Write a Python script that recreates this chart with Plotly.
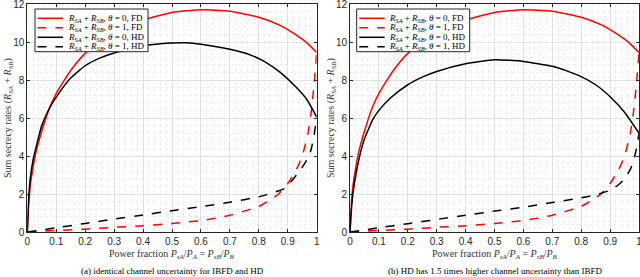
import plotly.graph_objects as go

# ---------------- data ----------------
x_fd0 = [0, 0.005, 0.01, 0.02, 0.03, 0.05, 0.076, 0.1, 0.15, 0.2, 0.3, 0.4, 0.5, 0.6, 0.7, 0.8, 0.87, 0.9, 0.95, 0.97, 1.0]
y_fd0 = [0, 1.5, 2.4, 3.4, 4.2, 5.3, 6.5, 7.3, 8.5, 9.4, 10.5, 11.15, 11.55, 11.7, 11.62, 11.3, 10.9, 10.65, 10.15, 9.9, 9.45]

x_fd1 = [0, 0.1, 0.2, 0.3, 0.4, 0.5, 0.6, 0.7, 0.8, 0.85, 0.87, 0.9, 0.93, 0.95, 0.97, 0.98, 0.99, 1.0]
y_fd1 = [0, 0.08, 0.15, 0.25, 0.33, 0.45, 0.6, 0.88, 1.35, 1.8, 2.03, 2.55, 3.3, 4.0, 5.2, 6.2, 7.6, 9.45]

# panel (a): identical channel uncertainty
x_hd0_a = [0, 0.005, 0.01, 0.02, 0.05, 0.076, 0.1, 0.15, 0.2, 0.25, 0.3, 0.4, 0.5, 0.55, 0.6, 0.7, 0.76, 0.82, 0.874, 0.93, 0.967, 1.0]
y_hd0_a = [0, 1.8, 2.8, 3.8, 5.6, 6.5, 7.1, 8.1, 8.75, 9.15, 9.42, 9.8, 9.95, 9.96, 9.88, 9.62, 9.38, 8.97, 8.4, 7.6, 6.95, 6.05]

x_hd1_a = [0, 0.1, 0.2, 0.3, 0.4, 0.5, 0.6, 0.7, 0.8, 0.85, 0.89, 0.93, 0.95, 0.97, 0.98, 0.99, 1.0]
y_hd1_a = [0, 0.22, 0.45, 0.68, 0.9, 1.12, 1.33, 1.57, 1.85, 2.08, 2.3, 3.0, 3.4, 3.9, 4.3, 5.0, 6.05]

# panel (b): HD has 1.5x higher channel uncertainty
x_hd0_b = [0, 0.005, 0.01, 0.02, 0.035, 0.05, 0.08, 0.1, 0.14, 0.2, 0.25, 0.3, 0.4, 0.5, 0.6, 0.7, 0.75, 0.8, 0.85, 0.9, 0.95, 1.0]
y_hd0_b = [0, 1.2, 2.0, 3.0, 4.1, 4.9, 5.95, 6.4, 7.05, 7.75, 8.15, 8.45, 8.85, 9.06, 8.98, 8.72, 8.48, 8.18, 7.75, 7.12, 6.3, 5.2]

x_hd1_b = [0, 0.1, 0.2, 0.3, 0.4, 0.5, 0.6, 0.7, 0.8, 0.85, 0.9, 0.93, 0.95, 0.97, 0.98, 0.99, 1.0]
y_hd1_b = [0, 0.22, 0.44, 0.66, 0.88, 1.1, 1.3, 1.55, 1.8, 1.95, 2.2, 2.5, 2.8, 3.3, 3.7, 4.3, 5.2]

x_ticks = [0, 0.1, 0.2, 0.3, 0.4, 0.5, 0.6, 0.7, 0.8, 0.9, 1]
x_tick_labels = ["0", "0.1", "0.2", "0.3", "0.4", "0.5", "0.6", "0.7", "0.8", "0.9", "1"]
y_ticks = [0, 2, 4, 6, 8, 10, 12]

names = [
    "<i>R<sub>SA</sub></i> + <i>R<sub>SB</sub></i>, <i>θ</i> = 0, FD",
    "<i>R<sub>SA</sub></i> + <i>R<sub>SB</sub></i>, <i>θ</i> = 1, FD",
    "<i>R<sub>SA</sub></i> + <i>R<sub>SB</sub></i>, <i>θ</i> = 0, HD",
    "<i>R<sub>SA</sub></i> + <i>R<sub>SB</sub></i>, <i>θ</i> = 1, HD",
]
captions = ["(a) identical channel uncertainty for IBFD and HD",
            "(b) HD has 1.5 times higher channel uncertainty than IBFD"]

# ---------------- figure ----------------
W, H = 640, 277
fig = go.Figure()
panels = [
    ("x", "y", [(x_fd0, y_fd0), (x_fd1, y_fd1), (x_hd0_a, y_hd0_a), (x_hd1_a, y_hd1_a)]),
    ("x2", "y2", [(x_fd0, y_fd0), (x_fd1, y_fd1), (x_hd0_b, y_hd0_b), (x_hd1_b, y_hd1_b)]),
]
styles = [("#ff0000", "solid"), ("#ff0000", "dash"), ("#000000", "solid"), ("#000000", "dash")]
for xa, ya, series in panels:
    for (xs, ys), (c, d), nm in zip(series, styles, names):
        fig.add_trace(go.Scatter(x=xs, y=ys, mode="lines", name=nm, xaxis=xa, yaxis=ya, showlegend=False,
                                 line=dict(color=c, dash=d, width=1.5, shape="spline", smoothing=0.5)))

axis_common = dict(
    showgrid=True, gridcolor="#e0e0e0", gridwidth=1,
    showline=True, linecolor="#262626", linewidth=1, mirror="allticks",
    ticks="inside", ticklen=3, tickcolor="#262626",
    tickfont=dict(family="Liberation Sans, Arial", size=10, color="#262626"),
    ticklabeloverflow="allow",
    zeroline=False,
)
minor_common = dict(showgrid=True, gridcolor="#ededed", griddash="dot", gridwidth=1, ticks="")

panel_x = [(27.3, 316.7), (350, 639)]
y_top_px, y_bot_px = 4, 232
for i, (x0p, x1p) in enumerate(panel_x):
    xa_name = "xaxis" if i == 0 else "xaxis2"
    ya_name = "yaxis" if i == 0 else "yaxis2"
    fig.layout[xa_name] = dict(axis_common, domain=[x0p / W, x1p / W], range=[0, 1],
                               anchor="y" if i == 0 else "y2",
                               tickvals=x_ticks, ticktext=x_tick_labels,
                               minor=dict(minor_common, dtick=0.02))
    fig.layout[ya_name] = dict(axis_common, domain=[1 - y_bot_px / H, 1 - y_top_px / H], range=[0, 12],
                               anchor="x" if i == 0 else "x2",
                               tickvals=y_ticks, minor=dict(minor_common, dtick=0.4))

fig.update_layout(
    width=W, height=H, margin=dict(l=0, r=0, t=0, b=0, autoexpand=False),
    paper_bgcolor="white", plot_bgcolor="white", showlegend=False,
)

# ---- legend boxes (drawn in paper coordinates, one per panel) ----
def px(xp):
    return xp / W

def py(yp):
    return 1 - yp / H

row_y = [18.3, 27.7, 37.3, 46.7]
shapes = []
for off in [0, 321.7]:
    shapes.append(dict(type="rect", xref="paper", yref="paper",
                       x0=px(35 + off), x1=px(148 + off), y0=py(51.7), y1=py(9),
                       line=dict(color="#262626", width=1), fillcolor="white", layer="above"))
    for (c, d), ry, nm in zip(styles, row_y, names):
        shapes.append(dict(type="line", xref="paper", yref="paper",
                           x0=px(37.5 + off), x1=px(63 + off), y0=py(ry), y1=py(ry),
                           line=dict(color=c, dash=d, width=1.5), layer="above"))
        fig.add_annotation(x=px(65.5 + off), y=py(ry), xref="paper", yref="paper", text=nm,
                           showarrow=False, xanchor="left", yanchor="middle",
                           font=dict(family="Liberation Serif, Times New Roman", size=9, color="#000000"))
fig.update_layout(shapes=shapes)

serif = dict(family="Liberation Serif, Times New Roman", color="#333333")
xtitle = "Power fraction <i>P<sub>sA</sub></i>/<i>P<sub>A</sub></i> = <i>P<sub>sB</sub></i>/<i>P<sub>B</sub></i>"
ytitle = "Sum secrecy rates (<i>R<sub>SA</sub></i> + <i>R<sub>SB</sub></i>)"
for cx, ylx, cap in [(172, 8, captions[0]), (494.5, 331, captions[1])]:
    fig.add_annotation(x=px(cx), y=py(254), xref="paper", yref="paper", text=xtitle,
                       showarrow=False, font=dict(serif, size=10), xanchor="center", yanchor="middle")
    fig.add_annotation(x=px(ylx), y=py(118), xref="paper", yref="paper", text=ytitle,
                       showarrow=False, font=dict(serif, size=10), textangle=-90,
                       xanchor="center", yanchor="middle")
    fig.add_annotation(x=px(cx), y=py(271), xref="paper", yref="paper", text=cap,
                       showarrow=False, font=dict(family="Liberation Serif, Times New Roman", size=9, color="#000000"),
                       xanchor="center", yanchor="middle")

fig.write_html("out.html", config={"displayModeBar": False},
               post_script="document.body.style.margin='0';document.body.style.overflow='hidden';")
